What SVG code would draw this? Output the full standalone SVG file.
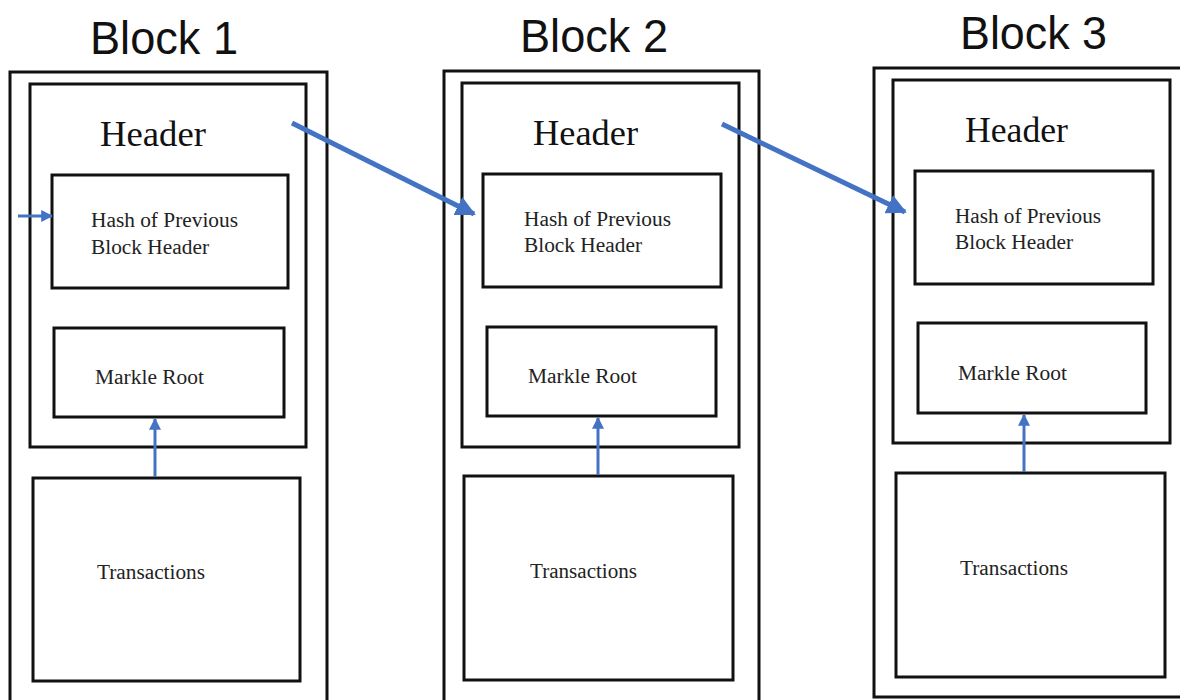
<svg xmlns="http://www.w3.org/2000/svg" width="1180" height="700" viewBox="0 0 1180 700">
<style>
.box{fill:none;stroke:#111;stroke-width:3}
.title{font-family:"Liberation Sans",Arial,sans-serif;font-size:46px;fill:#111}
.hdr{font-family:"Liberation Serif","Times New Roman",serif;font-size:36px;fill:#111}
.lbl{font-family:"Liberation Serif","Times New Roman",serif;font-size:20px;fill:#222}
.link{stroke:#4472C4;stroke-width:5;fill:none}
.up{stroke:#4472C4;stroke-width:3;fill:none}
</style>
<defs>
<marker id="ah" viewBox="0 0 10 10" refX="9" refY="5" markerWidth="4" markerHeight="4" orient="auto" markerUnits="strokeWidth">
<path d="M0,0 L10,5 L0,10 z" fill="#4472C4"/>
</marker>
<marker id="ahs" viewBox="0 0 10 10" refX="9" refY="5" markerWidth="4" markerHeight="4" orient="auto" markerUnits="strokeWidth">
<path d="M0,0 L10,5 L0,10 z" fill="#4472C4"/>
</marker>
</defs>
<rect width="1180" height="700" fill="#fff"/>

<g id="block1">
<text class="title" x="90" y="54" textLength="148" lengthAdjust="spacingAndGlyphs">Block 1</text>
<rect class="box" x="10" y="72" width="317" height="640"/>
<rect class="box" x="30" y="84" width="276" height="363"/>
<text class="hdr" x="100" y="146" textLength="106" lengthAdjust="spacingAndGlyphs">Header</text>
<rect class="box" x="52" y="175" width="236" height="113"/>
<text class="lbl" x="91" y="227" textLength="147" lengthAdjust="spacingAndGlyphs">Hash of Previous</text>
<text class="lbl" x="91" y="254" textLength="118" lengthAdjust="spacingAndGlyphs">Block Header</text>
<rect class="box" x="54" y="328" width="230" height="89"/>
<text class="lbl" x="95" y="384" textLength="109" lengthAdjust="spacingAndGlyphs">Markle Root</text>
<rect class="box" x="33" y="478" width="267" height="203"/>
<text class="lbl" x="97" y="579" textLength="108" lengthAdjust="spacingAndGlyphs">Transactions</text>
</g>

<g id="block2">
<text class="title" x="520" y="52" textLength="148" lengthAdjust="spacingAndGlyphs">Block 2</text>
<rect class="box" x="444" y="71" width="315" height="640"/>
<rect class="box" x="462" y="83" width="277" height="364"/>
<text class="hdr" x="533" y="145" textLength="105" lengthAdjust="spacingAndGlyphs">Header</text>
<rect class="box" x="483" y="174" width="238" height="113"/>
<text class="lbl" x="524" y="226" textLength="147" lengthAdjust="spacingAndGlyphs">Hash of Previous</text>
<text class="lbl" x="524" y="252" textLength="118" lengthAdjust="spacingAndGlyphs">Block Header</text>
<rect class="box" x="487" y="327" width="229" height="89"/>
<text class="lbl" x="528" y="383" textLength="109" lengthAdjust="spacingAndGlyphs">Markle Root</text>
<rect class="box" x="464" y="476" width="269" height="204"/>
<text class="lbl" x="530" y="578" textLength="107" lengthAdjust="spacingAndGlyphs">Transactions</text>
</g>

<g id="block3">
<text class="title" x="960" y="49" textLength="147" lengthAdjust="spacingAndGlyphs">Block 3</text>
<rect class="box" x="874" y="68" width="320" height="629"/>
<rect class="box" x="893" y="80" width="277" height="363"/>
<text class="hdr" x="965" y="142" textLength="103" lengthAdjust="spacingAndGlyphs">Header</text>
<rect class="box" x="915" y="171" width="238" height="113"/>
<text class="lbl" x="955" y="223" textLength="146" lengthAdjust="spacingAndGlyphs">Hash of Previous</text>
<text class="lbl" x="955" y="249" textLength="118" lengthAdjust="spacingAndGlyphs">Block Header</text>
<rect class="box" x="918" y="323" width="228" height="90"/>
<text class="lbl" x="958" y="380" textLength="109" lengthAdjust="spacingAndGlyphs">Markle Root</text>
<rect class="box" x="896" y="473" width="269" height="204"/>
<text class="lbl" x="960" y="575" textLength="108" lengthAdjust="spacingAndGlyphs">Transactions</text>
</g>

<g id="connectors">
<line class="link" x1="292" y1="123" x2="474" y2="214" marker-end="url(#ah)"/>
<line class="link" x1="722" y1="124" x2="905" y2="212" marker-end="url(#ah)"/>
<line class="up" x1="18" y1="216" x2="52" y2="216" marker-end="url(#ahs)"/>
<line class="up" x1="155" y1="477" x2="155" y2="419" marker-end="url(#ahs)"/>
<line class="up" x1="598" y1="475" x2="598" y2="418" marker-end="url(#ahs)"/>
<line class="up" x1="1024" y1="472" x2="1024" y2="415" marker-end="url(#ahs)"/>
</g>
</svg>
